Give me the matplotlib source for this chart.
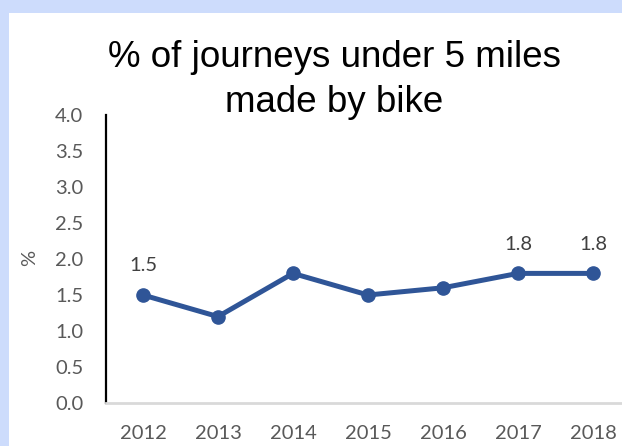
import matplotlib
matplotlib.use('Agg')
import matplotlib.pyplot as plt

# data
years = ['2012', '2013', '2014', '2015', '2016', '2017', '2018']
pct_bike = [1.5, 1.2, 1.8, 1.5, 1.6, 1.8, 1.8]
labelled = [0, 5, 6]  # points that carry a value label
y_ticks = [0.0, 0.5, 1.0, 1.5, 2.0, 2.5, 3.0, 3.5, 4.0]

W, H = 622, 446
fig = plt.figure(figsize=(W / 100, H / 100), dpi=100)
fig.patch.set_facecolor('#cddcfc')

# white chart panel (blue strip only on top and left)
panel = fig.add_axes([9 / W, 0, 1 - 9 / W, 1 - 13 / H])
panel.set_facecolor('white')
panel.set_xticks([])
panel.set_yticks([])
for s in panel.spines.values():
    s.set_visible(False)

# plot area: category axis, half-step padding, runs past right edge
left, right = 105.5, 630.5
bottom, top = 403, 115
ax = fig.add_axes([left / W, (H - bottom) / H, (right - left) / W, (bottom - top) / H])
ax.patch.set_alpha(0)

x = list(range(len(years)))
ax.plot(x, pct_bike, color='#2f5597', lw=3.6, marker='o', ms=9.5, solid_capstyle='round')
for i in labelled:
    ax.annotate(f'{pct_bike[i]:.1f}', (x[i], pct_bike[i]), xytext=(0, 15),
                textcoords='offset points', ha='center', va='bottom',
                fontsize=14.5, color='#404040', family='Lato')

ax.set_xlim(-0.5, len(years) - 0.5)
ax.set_ylim(0, 4)
ax.set_yticks(y_ticks)
ax.set_yticklabels([f'{v:.1f}' for v in y_ticks])
ax.set_xticks(x)
ax.set_xticklabels(years)
ax.tick_params(length=0, labelsize=14.5, labelcolor='#595959')
ax.tick_params(axis='y', pad=16)
ax.tick_params(axis='x', pad=16)
for lab in ax.get_xticklabels() + ax.get_yticklabels():
    lab.set_family('Lato')

ax.spines['top'].set_visible(False)
ax.spines['right'].set_visible(False)
ax.spines['left'].set_color('black')
ax.spines['left'].set_linewidth(1.6)
ax.spines['bottom'].set_color('#d9d9d9')
ax.spines['bottom'].set_linewidth(2)

fig.text(30 / W, 1 - 258 / H, '%', rotation=90, ha='center', va='center',
         fontsize=14.5, color='#595959', family='Lato')

fig.text(334 / W, 1 - 80 / H, '% of journeys under 5 miles\nmade by bike',
         ha='center', va='center', fontsize=26.5, family='Liberation Sans',
         color='black', linespacing=1.4)

fig.savefig('out.png', dpi=100)
